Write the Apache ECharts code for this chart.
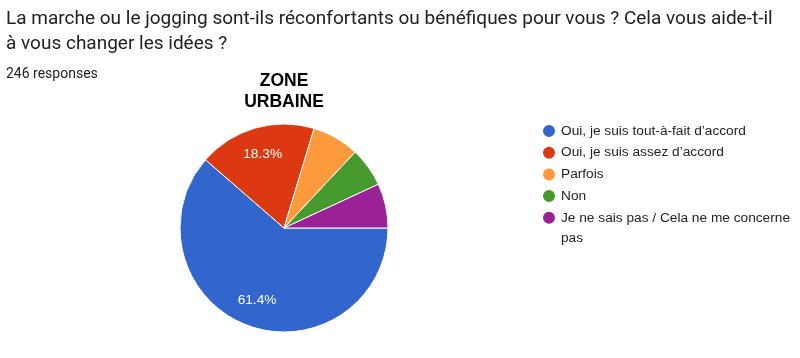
<!DOCTYPE html>
<html>
<head>
<meta charset="utf-8">
<script src="https://cdn.jsdelivr.net/npm/echarts@6/dist/echarts.min.js"></script>
<style>
html,body{margin:0;padding:0;background:#fff;}
#c{width:800px;height:358px;}
</style>
</head>
<body>
<div id="c"></div>
<script>
const questionTitle = "La marche ou le jogging sont-ils réconfortants ou bénéfiques pour vous ? Cela vous aide-t-il\nà vous changer les idées ?";
const responsesText = "246 responses";
const chartTitle = "ZONE\nURBAINE";
const categories = [
  "Oui, je suis tout-à-fait d’accord",
  "Oui, je suis assez d’accord",
  "Parfois",
  "Non",
  "Je ne sais pas / Cela ne me concerne pas"
];
const counts = [151, 45, 18, 15, 17];
const colors = ["#3366cc", "#dc3912", "#ff9a3c", "#479a2d", "#9a2196"];
const shownLabels = [true, true, false, false, false];

const chart = echarts.init(document.getElementById('c'), null, {renderer: 'canvas'});
const total = counts.reduce((a, b) => a + b, 0);
const lastName = categories[categories.length - 1];

const pieData = categories.map((n, i) => ({name: n, value: counts[i], itemStyle: {color: colors[i]}}));
const labelData = categories.map((n, i) => ({
  name: n, value: counts[i],
  label: {show: shownLabels[i]}
}));

chart.setOption({
  animation: false,
  title: [
    {text: questionTitle, left: 6, top: 7, padding: 0,
     textStyle: {fontFamily: 'Roboto', fontSize: 19, fontWeight: 'normal', color: '#202124', lineHeight: 25}},
    {text: responsesText, left: 6, top: 66, padding: 0,
     textStyle: {fontFamily: 'Roboto', fontSize: 14, fontWeight: 'normal', color: '#202124', lineHeight: 17}},
    {text: chartTitle, left: 284, top: 71, padding: 0, textAlign: 'center',
     textStyle: {fontFamily: 'Liberation Sans', fontSize: 17.5, fontWeight: 'bold', color: '#000', lineHeight: 21}}
  ],
  legend: {
    orient: 'vertical', left: 541, top: 101, padding: 0,
    itemWidth: 14, itemHeight: 14, itemGap: -38.3, icon: 'circle',
    formatter: name => name === lastName ? '\n' + name : name,
    textStyle: {fontFamily: 'Liberation Sans', fontSize: 13.7, color: '#222', lineHeight: 60, width: 238, overflow: 'break'},
    data: categories.map(n => n === lastName
      ? {name: n, textStyle: {lineHeight: 20}}
      : {name: n})
  },
  series: [
    {
      type: 'pie', center: [284, 228], radius: [0, 104],
      startAngle: 0, clockwise: true, silent: true,
      itemStyle: {borderColor: '#fff', borderWidth: 1},
      label: {show: false}, labelLine: {show: false},
      emphasis: {disabled: true},
      data: pieData
    },
    {
      type: 'pie', center: [284, 228], radius: [44, 104],
      startAngle: 0, clockwise: true, silent: true,
      itemStyle: {color: 'rgba(0,0,0,0)'},
      label: {position: 'inside', color: '#fff', fontFamily: 'Liberation Sans', fontSize: 13.7,
        formatter: p => (p.value / total * 100).toFixed(1) + '%'},
      labelLine: {show: false},
      emphasis: {disabled: true},
      data: labelData
    }
  ]
});
</script>
</body>
</html>
